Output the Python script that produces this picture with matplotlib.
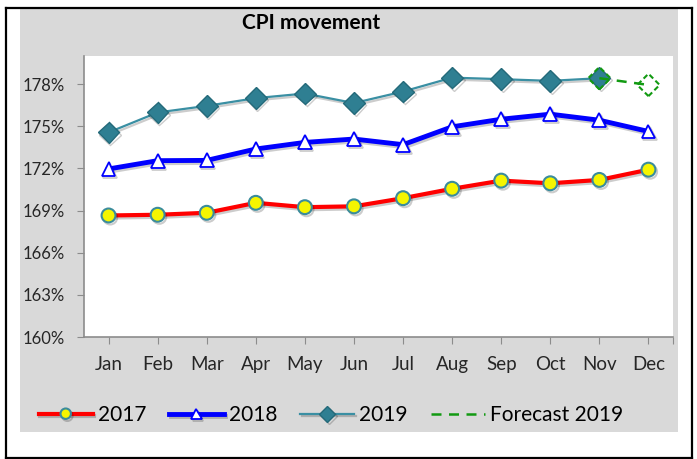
import numpy as np
import matplotlib
matplotlib.use("Agg")
import matplotlib.pyplot as plt
import matplotlib.patheffects as pe
from matplotlib.patches import Rectangle
from matplotlib.lines import Line2D

months = ["Jan", "Feb", "Mar", "Apr", "May", "Jun",
          "Jul", "Aug", "Sep", "Oct", "Nov", "Dec"]
cpi_2017 = [168.65, 168.7, 168.84, 169.55, 169.24, 169.3,
            169.88, 170.55, 171.13, 170.94, 171.18, 171.91]
cpi_2018 = [171.96, 172.55, 172.57, 173.38, 173.85, 174.09,
            173.69, 174.96, 175.5, 175.86, 175.43, 174.63]
cpi_2019 = [174.56, 175.98, 176.45, 177.0, 177.33, 176.65,
            177.47, 178.46, 178.35, 178.23, 178.42, np.nan]
forecast_2019 = [np.nan] * 10 + [178.42, 177.94]
y_ticks = [160, 163, 166, 169, 172, 175, 178]

W, H = 697, 459
plt.rcParams["font.family"] = ["Lato", "DejaVu Sans"]

fig = plt.figure(figsize=(W / 100, H / 100), dpi=100)
fig.patch.set_facecolor("white")

# grey chart area and the black table-cell border around it
fig.patches.append(Rectangle((20 / W, 1 - 432 / H), 658 / W, 423 / H,
                             transform=fig.transFigure, facecolor="#d9d9d9",
                             edgecolor="none", zorder=-5))
for xs, ys in [([6, 6], [8, 459]), ([6, 692], [7.5, 7.5]),
               ([692, 692], [8, 459]), ([6, 692], [457.5, 457.5])]:
    fig.add_artist(Line2D([x / W for x in xs], [1 - y / H for y in ys],
                          transform=fig.transFigure, color="black", lw=1.6))

ax = fig.add_axes([84 / W, 1 - 337 / H, 589 / W, 281 / H])
ax.set_zorder(2)
ax.set_facecolor("white")
x = np.arange(len(months))

shadow = [pe.SimpleLineShadow(offset=(1.2, -1.5), alpha=0.2), pe.Normal()]

ax.plot(x, cpi_2017, color="#ff0000", lw=3, marker="o", markersize=10,
        markerfacecolor="#f5f500", markeredgecolor="#3a8c9c",
        markeredgewidth=1.5, label="2017", zorder=3, path_effects=shadow)
ax.plot(x, cpi_2018, color="#0000ff", lw=3.5, marker="^", markersize=10,
        markerfacecolor="white", markeredgecolor="#0000ff",
        markeredgewidth=1.3, label="2018", zorder=3, path_effects=shadow)
ax.plot(x, cpi_2019, color="#3a8fa3", lw=1.6, marker="D", markersize=11,
        markerfacecolor="#2f7f92", markeredgecolor="#246a7a",
        markeredgewidth=1, label="2019", zorder=4, path_effects=shadow)
ax.plot(x, forecast_2019, color="#129a12", lw=1.8, ls=(0, (4, 3)),
        label="Forecast 2019", zorder=5)
# forecast markers with dashed outlines
ax.scatter(x, forecast_2019, marker="D", s=130, facecolors="none",
           edgecolors="#129a12", linewidths=1.5, linestyles=(0, (2.5, 1.5)),
           zorder=6)

ax.set_xlim(-0.5, 11.5)
ax.set_ylim(160, 180)
ax.set_yticks(y_ticks)
ax.set_yticklabels([f"{v}%" for v in y_ticks])
ax.set_xticks(list(x) + [11.5])
ax.set_xticklabels(months + [""])

for s in ["top", "right"]:
    ax.spines[s].set_visible(False)
for s in ["left", "bottom"]:
    ax.spines[s].set_color("#8c8c8c")
    ax.spines[s].set_linewidth(1.2)
ax.tick_params(axis="y", length=5, color="#8c8c8c", pad=9,
               labelsize=12, labelcolor="#262626")
ax.tick_params(axis="x", length=5, color="#8c8c8c", pad=9,
               labelsize=13.5, labelcolor="#262626")

fig.text(311 / W, 1 - 23 / H, "CPI movement", ha="center", va="center",
         fontsize=15, fontweight="bold", color="black")

fig.legend(loc="center", bbox_to_anchor=(331 / W, 1 - 415 / H), ncol=4,
           frameon=False, fontsize=15, handlelength=2.6, handletextpad=0.25,
           columnspacing=1.1, borderaxespad=0, markerscale=0.75)

fig.savefig("out.png", dpi=100, facecolor=fig.get_facecolor())
